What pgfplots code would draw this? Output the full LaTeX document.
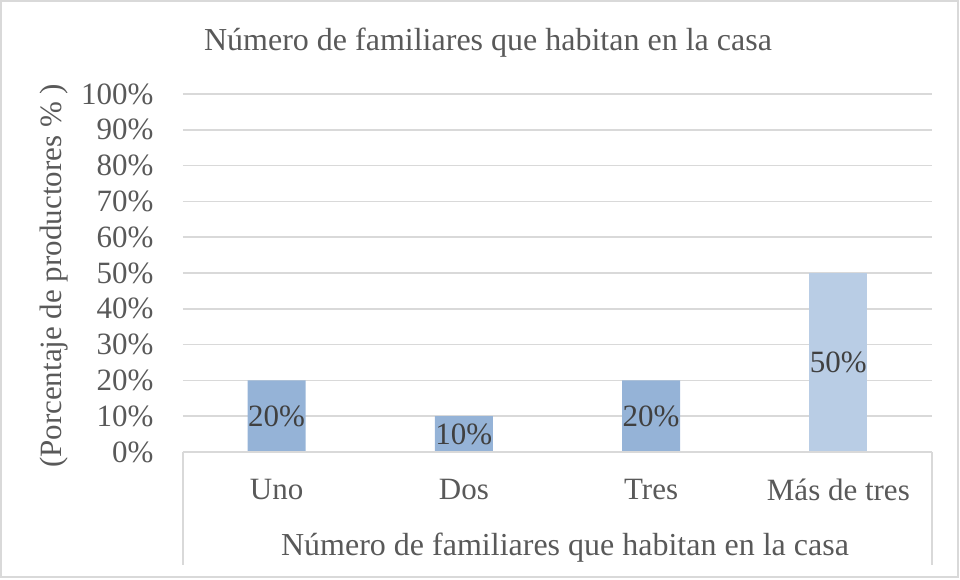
\documentclass[border=0pt]{standalone}
\usepackage{fontspec}
\setmainfont{Liberation Serif}
\usepackage{pgfplots}
\pgfplotsset{compat=1.18}
\definecolor{barDark}{HTML}{95B3D7}
\definecolor{barLight}{HTML}{B9CDE5}
\definecolor{gridGray}{HTML}{D9D9D9}
\definecolor{txtGray}{HTML}{595959}
\definecolor{lblGray}{HTML}{404040}

\begin{document}
\begin{tikzpicture}[x=1pt,y=1pt]
\useasboundingbox (-183,-127) rectangle (777,452);
\draw[gridGray, line width=1.5pt] (-182,-125) rectangle (775,451);
\begin{axis}[
  at={(0,0)}, anchor=south west,
  scale only axis,
  width=749pt, height=358pt,
  xmin=-0.5, xmax=3.5,
  ymin=0, ymax=100,
  ybar, bar width=58pt, bar shift=0pt,
  xtick={0,1,2,3},
  xticklabels={Uno,Dos,Tres,Más de tres},
  ytick={0,10,...,100},
  yticklabel={\pgfmathprintnumber{\tick}\%},
  /pgf/number format/assume math mode=true,
  tick style={draw=none},
  axis line style={draw=none},
  ymajorgrids, grid style={gridGray, line width=1.5pt},
  ticklabel style={font=\fontsize{31}{34}\selectfont, text=txtGray},
  yticklabel style={xshift=-26pt},
  xticklabel style={yshift=-19pt},
  nodes near coords={\pgfmathprintnumber{\pgfplotspointmeta}\%},
  point meta=y,
  visualization depends on=y \as \rawy,
  every node near coord/.append style={font=\fontsize{31}{34}\selectfont, text=lblGray, anchor=center,
    shift={(axis direction cs:0,-\rawy/2)}},
  clip=false,
]
\addplot[fill=barDark, draw=none] coordinates {(0,20) (1,10) (2,20)};
\addplot[fill=barLight, draw=none] coordinates {(3,50)};
\draw[gridGray, line width=1.5pt] (rel axis cs:0,0) -- (rel axis cs:1,0);
\end{axis}
\draw[gridGray, line width=1.5pt] (0,0) -- (0,-113);
\draw[gridGray, line width=1.5pt] (749,0) -- (749,-113);
\node[font=\fontsize{32}{36}\selectfont, text=txtGray] at (305,409) {Número de familiares que habitan en la casa};
\node[font=\fontsize{32}{36}\selectfont, text=txtGray] at (382,-96) {Número de familiares que habitan en la casa};
\node[font=\fontsize{31}{36}\selectfont, text=txtGray, rotate=90] at (-129,176) {(Porcentaje de productores \% )};
\end{tikzpicture}
\end{document}
